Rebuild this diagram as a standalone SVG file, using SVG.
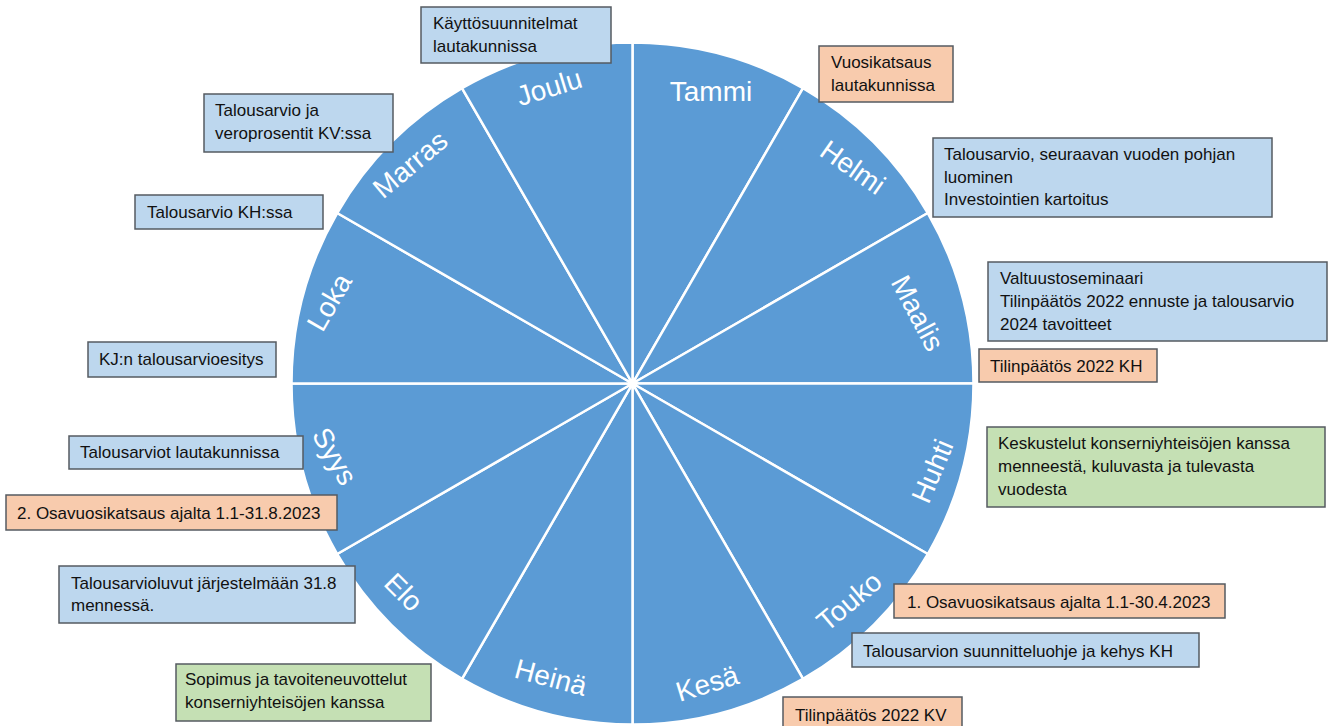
<svg xmlns="http://www.w3.org/2000/svg" width="1332" height="726" viewBox="0 0 1332 726">
<style>
.wedge{fill:#5B9BD5;stroke:#FFFFFF;stroke-width:2.5;stroke-linejoin:round}
.mon{font-family:"Liberation Sans",Arial,sans-serif;font-size:28px;fill:#FFFFFF;text-anchor:middle}
.box rect{stroke:#555B61;stroke-width:1.5}
.blue rect{fill:#BDD7EE}
.orange rect{fill:#F8CBAD}
.green rect{fill:#C5E0B4}
.box text{font-family:"Liberation Sans",Arial,sans-serif;font-size:17px;fill:#111111}
</style>
<rect width="1332" height="726" fill="#FFFFFF"/>
<g id="wheel">
  <g id="m-tammi"><path class="wedge" d="M632.5 383.5 L632.5 42.5 A341 341 0 0 1 803 88.19 Z"/><text class="mon" transform="translate(711 91) rotate(0)" y="10">Tammi</text></g>
  <g id="m-helmi"><path class="wedge" d="M632.5 383.5 L803 88.19 A341 341 0 0 1 927.81 213 Z"/><text class="mon" transform="translate(853 167) rotate(35)" y="10">Helmi</text></g>
  <g id="m-maalis"><path class="wedge" d="M632.5 383.5 L927.81 213 A341 341 0 0 1 973.5 383.5 Z"/><text class="mon" transform="translate(918 313) rotate(62)" y="10">Maalis</text></g>
  <g id="m-huhti"><path class="wedge" d="M632.5 383.5 L973.5 383.5 A341 341 0 0 1 927.81 554 Z"/><text class="mon" transform="translate(932 471) rotate(-67)" y="10">Huhti</text></g>
  <g id="m-touko"><path class="wedge" d="M632.5 383.5 L927.81 554 A341 341 0 0 1 803 678.81 Z"/><text class="mon" transform="translate(849 601) rotate(-40)" y="10">Touko</text></g>
  <g id="m-kesa"><path class="wedge" d="M632.5 383.5 L803 678.81 A341 341 0 0 1 632.5 724.5 Z"/><text class="mon" transform="translate(707 683) rotate(-17)" y="10">Kesä</text></g>
  <g id="m-heina"><path class="wedge" d="M632.5 383.5 L632.5 724.5 A341 341 0 0 1 462 678.81 Z"/><text class="mon" transform="translate(551 677) rotate(15)" y="10">Heinä</text></g>
  <g id="m-elo"><path class="wedge" d="M632.5 383.5 L462 678.81 A341 341 0 0 1 337.19 554 Z"/><text class="mon" transform="translate(404 592) rotate(45)" y="10">Elo</text></g>
  <g id="m-syys"><path class="wedge" d="M632.5 383.5 L337.19 554 A341 341 0 0 1 291.5 383.5 Z"/><text class="mon" transform="translate(335 456) rotate(60)" y="10">Syys</text></g>
  <g id="m-loka"><path class="wedge" d="M632.5 383.5 L291.5 383.5 A341 341 0 0 1 337.19 213 Z"/><text class="mon" transform="translate(329 302) rotate(-60)" y="10">Loka</text></g>
  <g id="m-marras"><path class="wedge" d="M632.5 383.5 L337.19 213 A341 341 0 0 1 462 88.19 Z"/><text class="mon" transform="translate(410 164) rotate(-40)" y="10">Marras</text></g>
  <g id="m-joulu"><path class="wedge" d="M632.5 383.5 L462 88.19 A341 341 0 0 1 632.5 42.5 Z"/><text class="mon" transform="translate(549 87) rotate(-17)" y="10">Joulu</text></g>
</g>
<g id="n-kayttosuunnitelmat" class="box blue"><rect x="421" y="7" width="190" height="56"/><text x="433" y="29">Käyttösuunnitelmat</text><text x="433" y="51.5">lautakunnissa</text></g>
<g id="n-vuosikatsaus" class="box orange"><rect x="819" y="46" width="134" height="56"/><text x="831" y="68">Vuosikatsaus</text><text x="831" y="91">lautakunnissa</text></g>
<g id="n-talousarvio-pohja" class="box blue"><rect x="933" y="138" width="339" height="79"/><text x="944" y="160">Talousarvio, seuraavan vuoden pohjan</text><text x="944" y="182.5">luominen</text><text x="944" y="205">Investointien kartoitus</text></g>
<g id="n-valtuustoseminaari" class="box blue"><rect x="988" y="262" width="339" height="79"/><text x="1000" y="284">Valtuustoseminaari</text><text x="1000" y="307">Tilinpäätös 2022 ennuste ja talousarvio</text><text x="1000" y="330">2024 tavoitteet</text></g>
<g id="n-tp-kh" class="box orange"><rect x="979" y="349" width="178" height="33"/><text x="990" y="371.5">Tilinpäätös 2022 KH</text></g>
<g id="n-keskustelut" class="box green"><rect x="987" y="427" width="338" height="80"/><text x="998" y="449">Keskustelut konserniyhteisöjen kanssa</text><text x="998" y="472">menneestä, kuluvasta ja tulevasta</text><text x="998" y="495">vuodesta</text></g>
<g id="n-osavuosi1" class="box orange"><rect x="894" y="584" width="331" height="34"/><text x="907" y="607.5">1. Osavuosikatsaus ajalta 1.1-30.4.2023</text></g>
<g id="n-suunnitteluohje" class="box blue"><rect x="852" y="633" width="347" height="34"/><text x="863" y="656.5">Talousarvion suunnitteluohje ja kehys KH</text></g>
<g id="n-tp-kv" class="box orange"><rect x="783" y="697" width="179" height="36"/><text x="795" y="720.5">Tilinpäätös 2022 KV</text></g>
<g id="n-sopimus" class="box green"><rect x="176" y="664" width="255" height="57"/><text x="185" y="685">Sopimus ja tavoiteneuvottelut</text><text x="185" y="707.5">konserniyhteisöjen kanssa</text></g>
<g id="n-luvut" class="box blue"><rect x="59" y="566" width="296" height="57"/><text x="71" y="589">Talousarvioluvut järjestelmään 31.8</text><text x="71" y="611">mennessä.</text></g>
<g id="n-osavuosi2" class="box orange"><rect x="6" y="495" width="331" height="35"/><text x="17" y="518.5">2. Osavuosikatsaus ajalta 1.1-31.8.2023</text></g>
<g id="n-lautakunnissa" class="box blue"><rect x="69" y="436" width="234" height="33"/><text x="80" y="458">Talousarviot lautakunnissa</text></g>
<g id="n-kj" class="box blue"><rect x="88" y="342" width="188" height="35"/><text x="99" y="364.5">KJ:n talousarvioesitys</text></g>
<g id="n-ta-kh" class="box blue"><rect x="135" y="195" width="188" height="34"/><text x="147" y="217.5">Talousarvio KH:ssa</text></g>
<g id="n-ta-kv" class="box blue"><rect x="204" y="94" width="189" height="58"/><text x="215" y="116">Talousarvio ja</text><text x="215" y="139">veroprosentit KV:ssa</text></g>
</svg>
